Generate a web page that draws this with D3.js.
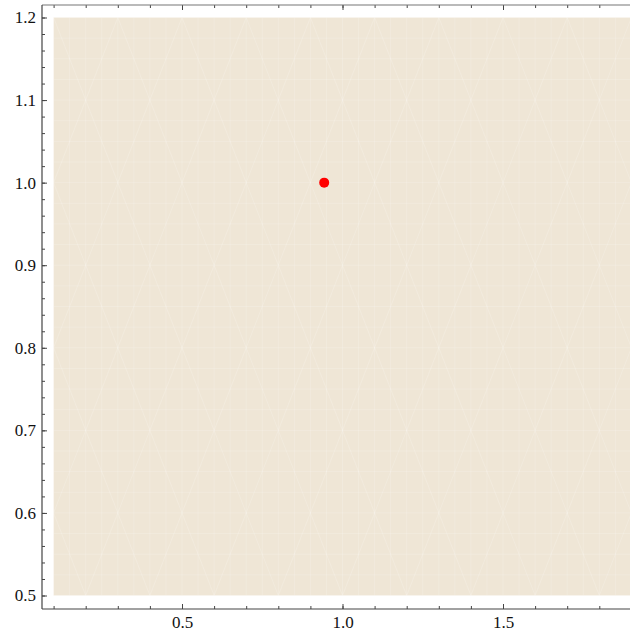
<!DOCTYPE html>
<html><head><meta charset="utf-8">
<script src="https://cdn.jsdelivr.net/npm/d3@7"></script>
<style>
html,body{margin:0;padding:0;background:#fff;}
svg{display:block;}
text{font-family:"Liberation Serif","DejaVu Serif",serif;}
</style></head>
<body>
<div id="chart"></div>
<script>
// ---- data ----
const regionX = [0.1, 1.9];          // filled region x extent
const regionY = [0.5, 1.2];          // filled region y extent
const pointX = [0.943];              // red point
const pointY = [1.0];
const xMajorTicks = [0.5, 1.0, 1.5];
const xTickLabels = ["0.5", "1.0", "1.5"];
const yMajorTicks = [0.5, 0.6, 0.7, 0.8, 0.9, 1.0, 1.1, 1.2];
const yTickLabels = ["0.5", "0.6", "0.7", "0.8", "0.9", "1.0", "1.1", "1.2"];
const xMinorTicks = d3.range(1, 20).map(i => i / 10);
const yMinorTicks = d3.range(25, 61).map(i => i / 50);

// ---- layout ----
const W = 630, H = 634;
const frame = {left: 42, top: 5, bottom: 609, right: 660};

const x = d3.scaleLinear().domain([0.5, 1.5]).range([182, 503]);
const y = d3.scaleLinear().domain([0.5, 1.2]).range([595.5, 17.5]);

const svg = d3.select("#chart").append("svg").attr("width", W).attr("height", H);

// region
const reg = svg.append("g");
reg.append("rect")
  .attr("x", x(regionX[0])).attr("y", y(regionY[1]))
  .attr("width", x(regionX[1]) - x(regionX[0]))
  .attr("height", y(regionY[0]) - y(regionY[1]))
  .attr("fill", "#efe6d6");

// faint mesh texture of the rendered region
const meshXs = d3.range(regionX[0], regionX[1] + 1e-9, 0.05);
const meshYs = d3.range(regionY[0], regionY[1] + 1e-9, 0.025);
const mesh = reg.append("g").attr("stroke", "#fff").attr("stroke-opacity", 0.22).attr("stroke-width", 0.8).attr("fill", "none");
meshXs.forEach(v => mesh.append("line").attr("x1", x(v)).attr("x2", x(v)).attr("y1", y(regionY[0])).attr("y2", y(regionY[1])));
meshYs.forEach(v => mesh.append("line").attr("y1", y(v)).attr("y2", y(v)).attr("x1", x(regionX[0])).attr("x2", x(regionX[1])));
for (let i = 0; i + 2 < meshXs.length; i += 2) {
  for (let j = 0; j + 4 < meshYs.length; j += 4) {
    const a = meshXs[i], b = meshXs[i + 2], c = meshYs[j], d = meshYs[j + 4];
    if ((i / 2 + j / 4) % 2 === 0) mesh.append("line").attr("x1", x(a)).attr("y1", y(d)).attr("x2", x(b)).attr("y2", y(c));
    else mesh.append("line").attr("x1", x(a)).attr("y1", y(c)).attr("x2", x(b)).attr("y2", y(d));
  }
}

// point
svg.selectAll("circle.pt").data(pointX.map((v, i) => [v, pointY[i]])).enter()
  .append("circle").attr("class", "pt")
  .attr("cx", d => x(d[0])).attr("cy", d => y(d[1])).attr("r", 5)
  .attr("fill", "#ff0000");

// axes
const axisColor = "#444";
function styleAxis(g) {
  g.select(".domain").remove();
  g.selectAll("line").attr("stroke", axisColor);
  g.selectAll("text").attr("fill", "#111").attr("font-size", "17px");
}

// bottom
svg.append("g").attr("transform", `translate(0,${frame.bottom})`)
  .call(d3.axisBottom(x).tickValues(xMinorTicks).tickSize(-3).tickFormat(""))
  .call(styleAxis);
svg.append("g").attr("transform", `translate(0,${frame.bottom})`)
  .call(d3.axisBottom(x).tickValues(xMajorTicks).tickSize(-5).tickPadding(7)
    .tickFormat((d, i) => xTickLabels[i]))
  .call(styleAxis);

// top (frame, no labels)
svg.append("g").attr("transform", `translate(0,${frame.top})`)
  .call(d3.axisTop(x).tickValues(xMinorTicks).tickSize(-3).tickFormat(""))
  .call(styleAxis);
svg.append("g").attr("transform", `translate(0,${frame.top})`)
  .call(d3.axisTop(x).tickValues(xMajorTicks).tickSize(-5).tickFormat(""))
  .call(styleAxis);

// left
svg.append("g").attr("transform", `translate(${frame.left},0)`)
  .call(d3.axisLeft(y).tickValues(yMinorTicks).tickSize(-3).tickFormat(""))
  .call(styleAxis);
svg.append("g").attr("transform", `translate(${frame.left},0)`)
  .call(d3.axisLeft(y).tickValues(yMajorTicks).tickSize(-5).tickPadding(6)
    .tickFormat((d, i) => yTickLabels[i]))
  .call(styleAxis);

// frame lines
const fr = svg.append("g").attr("stroke", axisColor).attr("stroke-width", 1.2);
fr.append("line").attr("x1", frame.left).attr("x2", frame.right).attr("y1", frame.bottom).attr("y2", frame.bottom);
fr.append("line").attr("x1", frame.left).attr("x2", frame.right).attr("y1", frame.top).attr("y2", frame.top).attr("stroke", "#777");
fr.append("line").attr("x1", frame.left).attr("x2", frame.left).attr("y1", frame.top).attr("y2", frame.bottom);
</script>
</body></html>
